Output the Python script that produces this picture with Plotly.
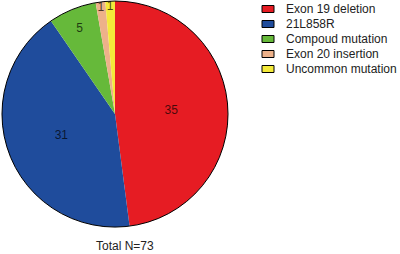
import plotly.graph_objects as go

categories = ["Exon 19 deletion", "21L858R", "Compoud mutation", "Exon 20 insertion", "Uncommon mutation"]
counts = [35, 31, 5, 1, 1]
colors = ["#E61C23", "#1F4C9C", "#66B93A", "#EDB18A", "#F4EA3A"]
total_label = "Total N=73"

W, H = 400, 254
fig = go.Figure()
dom_x = [0.005, 0.57]
dom_y = [0.106, 0.996]
fig.add_trace(go.Pie(
    labels=categories, values=counts, sort=False, direction="clockwise", rotation=0,
    marker=dict(colors=colors, line=dict(width=0)),
    textinfo="value", textposition="inside", insidetextorientation="horizontal",
    textfont=dict(family="Liberation Sans, Arial", size=12, color="rgba(0,0,0,0.7)"),
    domain=dict(x=dom_x, y=dom_y), showlegend=False, hoverinfo="skip",
))
shapes = [dict(type="circle", xref="paper", yref="paper", x0=dom_x[0], x1=dom_x[1],
               y0=dom_y[0], y1=dom_y[1], line=dict(color="black", width=1))]
annotations = [dict(text=total_label, x=125 / W, y=1 - 246 / H, xref="paper", yref="paper",
                    showarrow=False, xanchor="center", yanchor="middle",
                    font=dict(family="Liberation Sans, Arial", size=12, color="#222"))]
row0, step = 9, 15
for i, (cat, col) in enumerate(zip(categories, colors)):
    yc = row0 + i * step
    shapes.append(dict(type="rect", xref="paper", yref="paper",
                       x0=262 / W, x1=274 / W, y0=1 - (yc + 3.5) / H, y1=1 - (yc - 3.5) / H,
                       fillcolor=col, line=dict(color="black", width=1)))
    annotations.append(dict(text=cat, x=284 / W, y=1 - yc / H, xref="paper", yref="paper",
                            showarrow=False, xanchor="left", yanchor="middle",
                            font=dict(family="Liberation Sans, Arial", size=12, color="#222")))
fig.update_layout(width=W, height=H, margin=dict(l=0, r=0, t=0, b=0),
                  paper_bgcolor="white", plot_bgcolor="white",
                  uniformtext=dict(minsize=12, mode="show"),
                  shapes=shapes, annotations=annotations)
fig.write_html("out.html", config={"displayModeBar": False},
               post_script="document.body.style.margin='0';document.body.style.overflow='hidden';")
